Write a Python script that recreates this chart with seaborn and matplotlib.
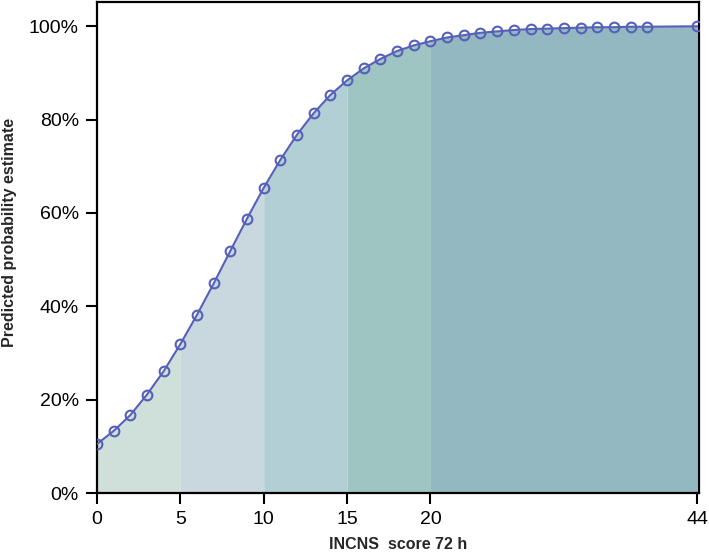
import numpy as np
import pandas as pd
import matplotlib
matplotlib.use("Agg")
import matplotlib.pyplot as plt
import seaborn as sns
from matplotlib.ticker import FuncFormatter

# --- data ---
scores = list(range(0, 34)) + [44]
prob_pct = [10.5, 13.3, 16.7, 21.1, 26.1, 31.9, 38.2, 44.9, 51.9, 58.8,
            65.4, 71.4, 76.8, 81.4, 85.3, 88.4, 91.0, 93.0, 94.7, 95.9,
            96.8, 97.6, 98.1, 98.6, 98.9, 99.2, 99.4, 99.5, 99.6, 99.7,
            99.8, 99.8, 99.9, 99.9, 100.0]
band_edges = [0, 5, 10, 15, 20, 44]
band_colors = ["#cfe0da", "#c8d8de", "#b3cfd6", "#9fc5c3", "#94b8c2"]
x_ticks = [0, 5, 10, 15, 20, 44]
y_ticks = [0, 20, 40, 60, 80, 100]

# the axis is broken after 33: score 44 sits at position 36
BREAK_AT, BREAK_POS = 33, 36


def to_pos(s):
    s = np.asarray(s, dtype=float)
    return np.where(s > BREAK_AT, BREAK_POS, s)


df = pd.DataFrame({"score": scores, "prob": prob_pct})
df["pos"] = to_pos(df["score"])

sns.set_style("ticks")
plt.rcParams['font.family'] = ['Liberation Sans', 'DejaVu Sans']

fig = plt.figure(figsize=(7.09, 5.54), dpi=100)
ax = fig.add_axes([0.1368, 0.1101, 0.849, 0.8863])

# --- shaded bands under the curve ---
for lo, hi, col in zip(band_edges[:-1], band_edges[1:], band_colors):
    seg = df[(df["score"] >= lo) & (df["score"] <= hi)]
    ax.fill_between(seg["pos"], 0, seg["prob"], color=col, lw=0, zorder=1)

# --- curve with open markers ---
sns.lineplot(data=df, x="pos", y="prob", ax=ax, color="#5660b8",
             lw=1.5, marker="o", markersize=7, markerfacecolor="none",
             markeredgecolor="#5660b8", markeredgewidth=1.5, zorder=3)

ax.set_xlim(0, 36.1)
ax.set_ylim(0, 105.2)
ax.set_xticks(to_pos(x_ticks))
ax.set_xticklabels([str(t) for t in x_ticks])
ax.set_yticks(y_ticks)
ax.yaxis.set_major_formatter(FuncFormatter(lambda v, p: f"{v:.0f}%"))

for sp in ax.spines.values():
    sp.set_visible(True)
    sp.set_linewidth(1.6)
    sp.set_color("black")
ax.tick_params(axis="both", length=8, width=1.5, labelsize=14, pad=5,
               colors="black")

ax.set_xlabel("INCNS  score 72 h", fontsize=11.5, fontweight="bold")
ax.set_ylabel("Predicted probability estimate", fontsize=11.5, fontweight="bold")
ax.xaxis.set_label_coords(0.5, -0.09)
ax.yaxis.set_label_coords(-0.133, 0.53)

fig.savefig("out.png", dpi=100)
